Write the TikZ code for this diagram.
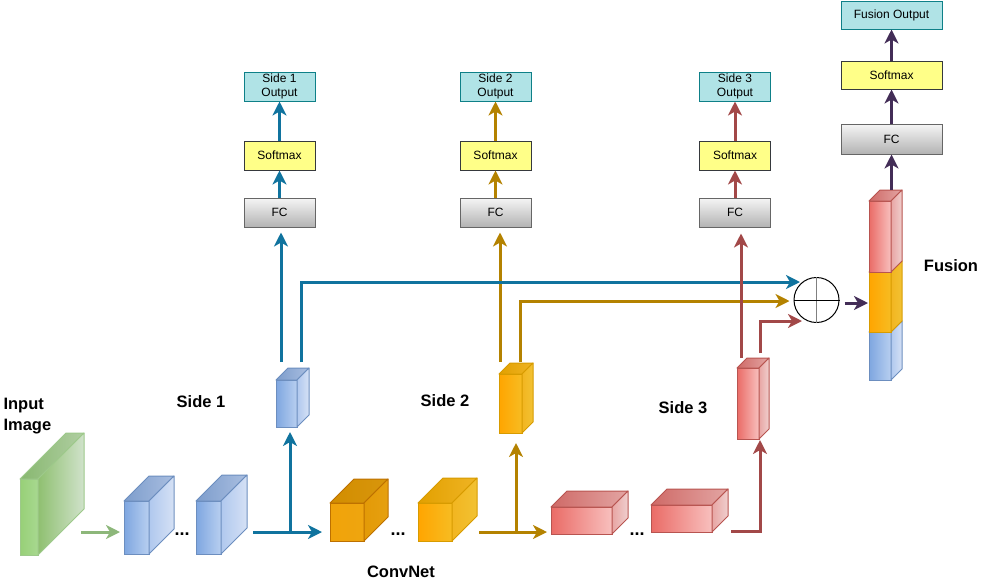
\documentclass[tikz,border=0pt]{standalone}
\usepackage{fontspec}
\setmainfont{Liberation Sans}
\usetikzlibrary{calc,positioning,arrows.meta}
% connector colours
\definecolor{sgreen}{HTML}{8DB77A}
\definecolor{sblue}{HTML}{10739E}
\definecolor{sgold}{HTML}{B48200}
\definecolor{sred}{HTML}{A24848}
\definecolor{spurple}{HTML}{432D57}
% box colours
\definecolor{outfill}{HTML}{B0E3E6}\definecolor{outdraw}{HTML}{0E8088}
\definecolor{smfill}{HTML}{FFFF88}\definecolor{smdraw}{HTML}{36393D}
\definecolor{fctop}{HTML}{F5F5F5}\definecolor{fcbot}{HTML}{B3B3B3}
\definecolor{fcdraw}{HTML}{666666}
% block faces: D/F front, T/U top, L/R side, S stroke
\definecolor{grD}{HTML}{97D077}\definecolor{grF}{HTML}{A8D890}
\definecolor{grT}{HTML}{88B870}\definecolor{grU}{HTML}{B0CEA2}
\definecolor{grL}{HTML}{8FC070}\definecolor{grR}{HTML}{D0E2CB}
\definecolor{grS}{HTML}{9DC98A}
\definecolor{blD}{HTML}{7EA6E0}\definecolor{blF}{HTML}{B8CFF0}
\definecolor{blT}{HTML}{7D9DCC}\definecolor{blU}{HTML}{A9BEE0}
\definecolor{blL}{HTML}{B0C8EE}\definecolor{blR}{HTML}{D5E1F5}
\definecolor{blS}{HTML}{6C8EBF}
\definecolor{odD}{HTML}{F0A30A}\definecolor{odF}{HTML}{EFA50F}
\definecolor{odT}{HTML}{D28D00}\definecolor{odU}{HTML}{D8960C}
\definecolor{odL}{HTML}{E39A07}\definecolor{odR}{HTML}{E6A010}
\definecolor{odS}{HTML}{BD7000}
\definecolor{olD}{HTML}{FFA500}\definecolor{olF}{HTML}{F7BC22}
\definecolor{olT}{HTML}{E2A000}\definecolor{olU}{HTML}{EFB424}
\definecolor{olL}{HTML}{F2B520}\definecolor{olR}{HTML}{F2C233}
\definecolor{olS}{HTML}{D79B00}
\definecolor{rdD}{HTML}{EA6B66}\definecolor{rdF}{HTML}{F8C0BE}
\definecolor{rdT}{HTML}{CF6A67}\definecolor{rdU}{HTML}{E3A5A3}
\definecolor{rdL}{HTML}{E8A5A3}\definecolor{rdR}{HTML}{F0CFCE}
\definecolor{rdS}{HTML}{B85450}
\tikzset{
  block/.style={rectangle, inner sep=0pt, outer sep=0pt, anchor=north west,
                line width=1pt},
  stagebox/.style={rectangle, minimum width=71, minimum height=29, inner sep=1pt,
                   line width=1pt, align=center, font=\fontsize{12}{13.5}\selectfont},
  outbox/.style={stagebox, fill=outfill, draw=outdraw},
  smbox/.style={stagebox, fill=smfill, draw=smdraw},
  fcbox/.style={stagebox, top color=fctop, bottom color=fcbot, draw=fcdraw},
  flow/.style={line width=3pt, -{Stealth[length=14pt, width=14pt, inset=4pt]}},
  tag/.style={font=\fontsize{16.5}{21}\selectfont\bfseries, align=left},
  gap/.style={font=\fontsize{18}{18}\selectfont\bfseries},
}
% name, front top-left, width, height, depth, colour prefix
\newcommand{\netblock}[6]{%
  \node[block, minimum width=#3, minimum height=#4, draw=#6S,
        left color=#6D, right color=#6F] (#1) at (#2) {};
  \path[draw=#6S, line width=1pt, line join=round, left color=#6T, right color=#6U]
    (#1.north west) -- ++(#5,-#5) -- ++(#3,0) -- (#1.north east) -- cycle;
  \path[draw=#6S, line width=1pt, line join=round, left color=#6L, right color=#6R]
    (#1.north east) -- ++(#5,-#5) -- ++(0,#4) -- (#1.south east) -- cycle;
}
\begin{document}
\begin{tikzpicture}[x=1pt,y=-1pt]
  \useasboundingbox (0,0) rectangle (991,582);
  % --- ConvNet blocks ---
  \netblock{in}{20,479}{18}{76}{46}{gr}
  \netblock{b1}{124,501}{25}{53}{25}{bl}
  \netblock{b2}{196,501}{25}{53}{26}{bl}
  \netblock{s1}{276,380}{21}{47}{12}{bl}
  \netblock{o1}{330,503}{34}{38}{24}{od}
  \netblock{o2}{418,503}{34}{38}{25}{ol}
  \netblock{s2}{499,374}{23}{59}{11}{ol}
  \netblock{r1}{551,507}{61}{27}{16}{rd}
  \netblock{r2}{651,505}{61}{27}{16}{rd}
  \netblock{s3}{737,368}{22}{71}{10}{rd}
  % --- Fusion column ---
  \netblock{fb}{869,332}{22}{48}{11}{bl}
  \netblock{fo}{869,272}{22}{60}{11}{ol}
  \netblock{fr}{869,201}{22}{71}{11}{rd}
  \node[gap] (d1) at (182,534) {...};
  \node[gap] (d2) at (398,534) {...};
  \node[gap] (d3) at (637,534) {...};
  % --- labels ---
  \node[tag, anchor=west] (lin) at (0,416.5) {Input\\Image};
  \node[tag] (ls1) at (201,402) {Side 1};
  \node[tag] (ls2) at (445,401) {Side 2};
  \node[tag] (ls3) at (683,408) {Side 3};
  \node[tag] (lcn) at (401,572) {ConvNet};
  \node[tag] (lfu) at (951,266) {Fusion};
  % --- side outputs ---
  \foreach \i/\x/\c in {1/279.5/sblue,2/495.5/sgold,3/735/sred}{
    \node[fcbox] (fc\i) at (\x,212.5) {FC};
    \node[smbox] (sm\i) at (\x,155.5) {Softmax};
    \node[outbox] (out\i) at (\x,86.5) {Side \i\\Output};
    \draw[flow, \c] (fc\i) -- (sm\i);
    \draw[flow, \c] (sm\i) -- (out\i);
  }
  % --- fusion output ---
  \node[fcbox, minimum width=101, minimum height=30] (fcF) at (891.5,139) {FC};
  \node[smbox, minimum width=101, minimum height=28] (smF) at (891.5,75) {Softmax};
  \node[outbox, minimum width=101, minimum height=28] (outF) at (891.5,15) {Fusion Output};
  \draw[flow, spurple] (fcF) -- (smF);
  \draw[flow, spurple] (smF) -- (outF);
  \node[circle, draw, line width=1pt, minimum size=45, inner sep=0pt] (sum) at (816.5,300) {};
  \draw[line width=1.5pt, gray] (sum.north) -- (sum.south);
  \draw[line width=1pt] (sum.west) -- (sum.east);
  % --- main path ---
  \coordinate (g0) at (81,532);
  \coordinate (c1) at (253,532);
  \coordinate (j1) at (290,532);
  \coordinate (c2) at (479,532);
  \coordinate (j2) at (516,532);
  \coordinate (c3) at (731,531);
  \draw[flow, sgreen] (g0) -- ($(g0 -| b1.west)+(-4,0)$);
  \draw[flow, sblue] (c1) -- ($(c1 -| o1.west)+(-8,0)$);
  \draw[flow, sblue] (j1) -- ($(j1 |- s1.south)+(0,5)$);
  \draw[flow, sgold] (c2) -- ($(c2 -| r1.west)+(-4,0)$);
  \draw[flow, sgold] (j2) -- ($(j2 |- s2.south)+(0,10)$);
  \draw[flow, sred] (c3) -| ($(s3.south east)+(1,1)$);
  % --- side branches ---
  \draw[flow, sgold] ($(s2.north west)+(1,-12)$) -- ($(fc2.south)+(4.5,5)$);
  \draw[flow, sgold] ($(s2.north west)+(21,-12)$) |- ($(sum.west)+(-4,1)$);
  \draw[flow, sblue] ($(s1.north west)+(5,-18)$) -- ($(fc1.south)+(1.5,5)$);
  \draw[flow, sblue] ($(s1.north west)+(25,-18)$) |- ($(sum.center)+(-16.5,-18)$);
  \draw[flow, sred] ($(s3.north west)+(4,-10)$) -- ($(fc3.south)+(6,6)$);
  \draw[flow, sred] ($(s3.north west)+(23,-15)$) |- ($(sum.center)+(-14.5,21)$);
  \draw[flow, spurple] ($(sum.east)+(5,3)$) -- ($(sum.east -| fo.west)+(-1,3)$);
  \draw[flow, spurple] ($(fr.north east)+(0.5,-11)$) -- (fcF.south);
\end{tikzpicture}
\end{document}
